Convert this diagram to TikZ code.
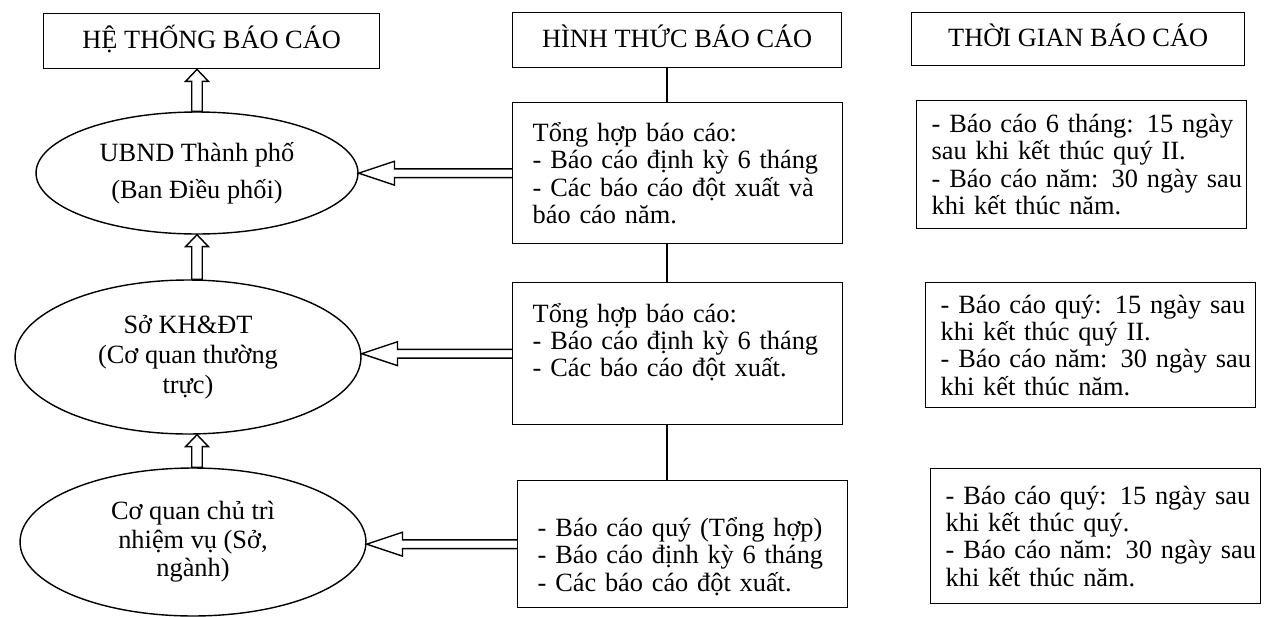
\documentclass[tikz,border=0pt]{standalone}
\usepackage{fontspec}
\setmainfont{Liberation Serif}
\usetikzlibrary{shapes.geometric,calc}

\begin{document}
\begin{tikzpicture}[x=0.02cm, y=-0.02cm, line width=0.8pt,
                    font=\fontsize{15}{15.6}\selectfont,
                    hdrbox/.style = {draw, anchor=north west, minimum height=1.1cm,
                                     inner sep=0pt, text height=11pt, text depth=3pt},
                    orgell/.style = {draw, ellipse, inner sep=0pt,
                                     align=center, minimum width=6.92cm},
                    formbox/.style = {draw, anchor=north west, align=left,
                                      text width=5.8cm, inner xsep=0.4cm},
                    duebox/.style = {draw, anchor=north west, align=left,
                                     text width=6cm, inner xsep=0.3cm},
                    upblock/.style = {to path={let \p1=(\tikztostart), \p2=(\tikztotarget) in
                                      (\x1-3pt,\y1) -- (\x1-3pt,\y2-6.8pt) -- (\x1-6.5pt,\y2-6.8pt)
                                      -- (\x1,\y2) -- (\x1+6.5pt,\y2-6.8pt) -- (\x1+3pt,\y2-6.8pt)
                                      -- (\x1+3pt,\y1) -- cycle}},
                    leftblock/.style = {to path={let \p1=(\tikztostart), \p2=(\tikztotarget) in
                                        (\x1,\y1+2.5pt) -- (\x2+20.4pt,\y1+2.5pt) -- (\x2+20.4pt,\y1+6.8pt)
                                        -- (\x2,\y1) -- (\x2+20.4pt,\y1-6.8pt) -- (\x2+20.4pt,\y1-2.5pt)
                                        -- (\x1,\y1-2.5pt)}}]

    \useasboundingbox (0,0) rectangle (1265,616);

    % Column headings
    \node[hdrbox, minimum width=6.72cm] (sys) at (43,13) {HỆ THỐNG BÁO CÁO};
    \node[hdrbox, minimum width=6.58cm] (kind) at (512,12) {HÌNH THỨC BÁO CÁO};
    \node[hdrbox, minimum width=6.66cm, minimum height=1.06cm] (time) at (911,12) {THỜI GIAN BÁO CÁO};

    % Reporting levels
    \node[orgell, minimum width=6.44cm, minimum height=2.44cm,
          font=\fontsize{15}{21}\selectfont] (ubnd) at (197,173) {UBND Thành phố\\(Ban Điều phối)};
    \node[orgell, minimum height=3.08cm,
          font=\fontsize{15}{17}\selectfont] (skh) at (188,357) {Sở KH\&ĐT\\(Cơ quan thường\\trực)};
    \node[orgell, minimum height=2.96cm,
          font=\fontsize{15}{16.2}\selectfont] (cq) at (193,542) {Cơ quan chủ trì\\nhiệm vụ (Sở,\\ngành)};

    % Report forms
    \node[formbox, minimum height=2.82cm] (f1) at (512,102)
        {Tổng hợp báo cáo:\\- Báo cáo định kỳ 6 tháng\\- Các báo cáo đột xuất và\\báo cáo năm.};
    \node[formbox, minimum height=2.84cm] (f2) at (512,282)
        {Tổng hợp báo cáo:\\- Báo cáo định kỳ 6 tháng\\- Các báo cáo đột xuất.\\\mbox{}};
    \node[formbox, minimum height=2.54cm] (f3) at (517,480)
        {\rule{0pt}{25pt}- Báo cáo quý (Tổng hợp)\\- Báo cáo định kỳ 6 tháng\\- Các báo cáo đột xuất.};

    % Deadlines
    \node[duebox, minimum height=2.56cm] (t1) at (916,100)
        {\makebox[\hsize][s]{- Báo cáo 6 tháng: 15 ngày}\\sau khi kết thúc quý II.\\
         \makebox[\hsize][s]{- Báo cáo năm: 30 ngày sau}\\khi kết thúc năm.};
    \node[duebox, minimum height=2.5cm] (t2) at (925,282)
        {\makebox[\hsize][s]{- Báo cáo quý: 15 ngày sau}\\khi kết thúc quý II.\\
         \makebox[\hsize][s]{- Báo cáo năm: 30 ngày sau}\\khi kết thúc năm.};
    \node[duebox, minimum height=2.7cm] (t3) at (930,468)
        {\makebox[\hsize][s]{- Báo cáo quý: 15 ngày sau}\\khi kết thúc quý.\\
         \makebox[\hsize][s]{- Báo cáo năm: 30 ngày sau}\\khi kết thúc năm.};

    % Spine of the forms column
    \coordinate (spine) at (667,0);
    \foreach \a/\b in {kind/f1, f1/f2, f2/f3}
        \draw (spine |- \a.south) -- (spine |- \b.north);

    % Hollow arrows
    \draw[upblock] (ubnd.north) to (sys.south);
    \draw[upblock] (ubnd.south |- skh.north) to (ubnd.south);
    \draw[upblock] (ubnd.south |- cq.north) to (ubnd.south |- skh.south);
    \foreach \f/\o in {f1/ubnd, f2/skh, f3/cq}
        \draw[leftblock] (\f.west) to (\o.east);

\end{tikzpicture}
\end{document}
